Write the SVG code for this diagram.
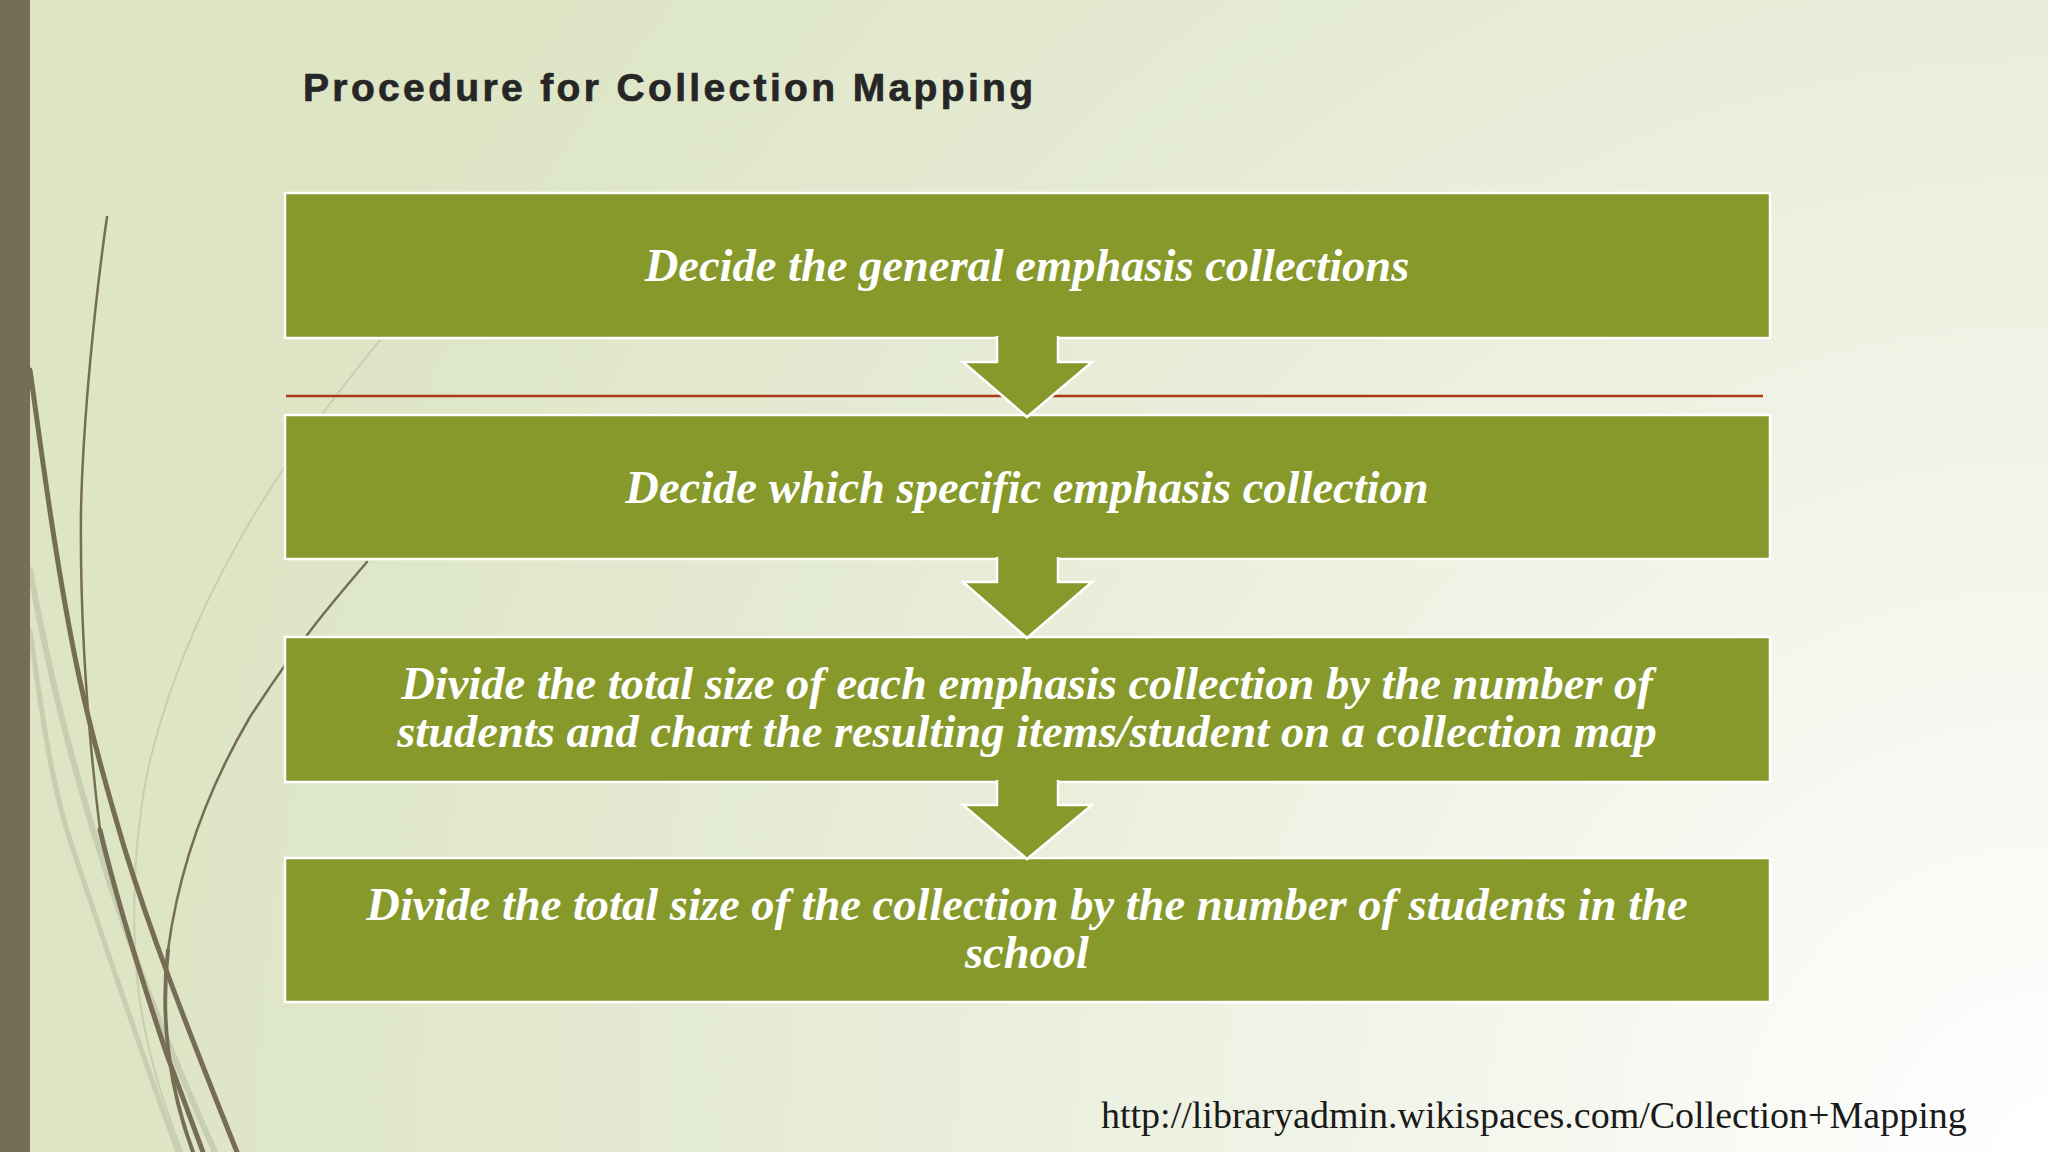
<svg xmlns="http://www.w3.org/2000/svg" width="2048" height="1152" viewBox="0 0 2048 1152">
<defs>
<radialGradient id="bg" gradientUnits="userSpaceOnUse" cx="2048" cy="1152" r="1900">
<stop offset="0" stop-color="#ffffff"/>
<stop offset="0.3" stop-color="#f3f6ec"/>
<stop offset="0.65" stop-color="#e6ecd6"/>
<stop offset="1" stop-color="#dde5c5"/>
</radialGradient>
<style>
.box{fill:#86992a;stroke:#ffffff;stroke-width:2.5}
.arr{fill:#86992a;stroke:#ffffff;stroke-width:2.5;stroke-linejoin:miter}
.lbl{font-family:"Liberation Serif","Times New Roman",serif;font-style:italic;font-weight:bold;font-size:46.5px;fill:#ffffff;text-anchor:middle}
.dk{fill:none;stroke:#766d55;stroke-linecap:round}
.pl{fill:none;stroke:#c5cbae;stroke-linecap:round;opacity:0.9}
</style>
</defs>
<rect x="0" y="0" width="2048" height="1152" fill="url(#bg)"/>
<g id="decor">
<path class="pl" stroke-width="2" d="M380,340 C340,390 300,440 257,510 C215,580 175,660 150,760 C130,850 130,960 145,1030 C155,1080 170,1120 182,1152"/>
<path class="pl" stroke-width="6" d="M30,570 C45,650 60,720 93,830 C120,920 160,1030 215,1152"/>
<path class="pl" stroke-width="5" d="M30,630 C40,700 50,780 70,840 C100,930 140,1050 178,1152"/>
<path class="dk" stroke-width="2.5" d="M107,217 C95,300 83,420 81,510 C80,600 84,700 100,830"/>
<path class="dk" stroke-width="5" d="M100,830 C112,880 135,960 167,1055 C180,1090 195,1130 203,1152"/>
<path class="dk" stroke-width="5" d="M30,370 C40,440 55,560 77,667 C90,730 110,800 125,850 C150,930 180,1010 237,1152"/>
<path class="dk" stroke-width="2.5" d="M367,562 C330,605 300,640 250,717 C210,785 180,860 168,950"/>
<path class="dk" stroke-width="4" d="M168,950 C160,1020 170,1090 193,1152"/>
<rect x="0" y="0" width="30" height="1152" fill="#766d55"/>
</g>
<text id="title" x="303" y="101" font-family="'Liberation Sans',Arial,sans-serif" font-weight="bold" font-size="39" letter-spacing="3.35" fill="#262626" stroke="#262626" stroke-width="0.7">Procedure for Collection Mapping</text>
<line x1="286" y1="396" x2="1763" y2="396" stroke="#ad3a17" stroke-width="2.5"/>
<g id="node1">
<rect class="box" x="285" y="193" width="1485" height="145"/>
<text class="lbl" x="1027" y="281">Decide the general emphasis collections</text>
</g>
<g id="node2">
<rect class="box" x="285" y="415" width="1485" height="144"/>
<text class="lbl" x="1027" y="503">Decide which specific emphasis collection</text>
</g>
<g id="node3">
<rect class="box" x="285" y="637" width="1485" height="145"/>
<text class="lbl" x="1027" y="699">Divide the total size of each emphasis collection by the number of</text>
<text class="lbl" x="1027" y="747">students and chart the resulting items/student on a collection map</text>
</g>
<g id="node4">
<rect class="box" x="285" y="858" width="1485" height="144"/>
<text class="lbl" x="1027" y="920">Divide the total size of the collection by the number of students in the</text>
<text class="lbl" x="1027" y="968">school</text>
</g>
<g id="connectors">
<path class="arr" d="M997,336 L997,362 L963,362 L1027,417 L1092,362 L1058,362 L1058,336"/>
<path class="arr" d="M997,557 L997,582 L963,582 L1027,638 L1092,582 L1058,582 L1058,557"/>
<path class="arr" d="M997,780 L997,805 L963,805 L1027,859 L1092,805 L1058,805 L1058,780"/>
</g>
<text id="source" x="1101" y="1128" font-family="'Liberation Serif','Times New Roman',serif" font-size="38" fill="#1a1a1a">http://libraryadmin.wikispaces.com/Collection+Mapping</text>
</svg>
